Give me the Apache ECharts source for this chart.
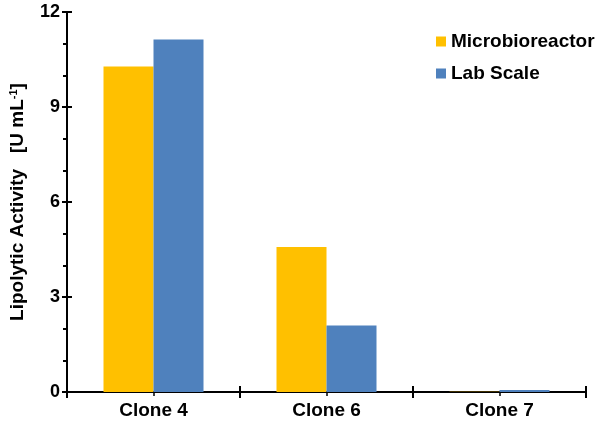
<!DOCTYPE html>
<html><head><meta charset="utf-8">
<script src="https://cdn.jsdelivr.net/npm/echarts@6/dist/echarts.min.js"></script>
<style>html,body{margin:0;padding:0;background:#fff}#c{width:600px;height:429px}</style>
</head><body><div id="c"></div>
<script>
const categories = ['Clone 4', 'Clone 6', 'Clone 7'];
const microbioreactor = [10.28, 4.58, 0.01];
const labScale = [11.13, 2.1, 0.06];
const yTicks = [0, 3, 6, 9, 12];

const F = '"Liberation Sans", Arial, Helvetica, sans-serif';
const chart = echarts.init(document.getElementById('c'), null, {renderer: 'canvas'});
const grid = {left: 64, right: 14, top: 12, bottom: 37};
const lineStyle = {color: '#000', width: 2};
chart.setOption({
  animation: false,
  backgroundColor: '#fff',
  grid: grid,
  legend: {
    orient: 'vertical', left: 431, top: 27, itemWidth: 10, itemHeight: 10, itemGap: 13,
    icon: 'rect',
    textStyle: {fontFamily: F, fontWeight: 'bold', fontSize: 19, color: '#000'},
    data: ['Microbioreactor', 'Lab Scale']
  },
  xAxis: [
    {type: 'category', data: categories, position: 'bottom',
     axisLine: {lineStyle: lineStyle},
     axisTick: {show: true, alignWithLabel: false, length: 6, inside: false, lineStyle: lineStyle},
     axisLabel: {fontFamily: F, fontWeight: 'bold', fontSize: 19, color: '#000', margin: 9}},
    {type: 'category', data: categories, position: 'bottom',
     axisLine: {show: false},
     axisTick: {show: true, alignWithLabel: false, length: 6, inside: true, lineStyle: lineStyle},
     axisLabel: {show: false}},
    {type: 'category', data: categories, position: 'bottom',
     axisLine: {show: false},
     axisTick: {show: true, alignWithLabel: true, length: 4, inside: false, lineStyle: {color: '#000', width: 1.5}},
     axisLabel: {show: false}}
  ],
  yAxis: [
    {type: 'value', min: yTicks[0], max: yTicks[yTicks.length - 1], interval: 3,
     name: '{t|Lipolytic Activity   [U mL}{s|-1}{t|]}',
     nameLocation: 'middle', nameGap: 39, nameRotate: 90,
     nameTextStyle: {rich: {
       t: {fontFamily: F, fontWeight: 'bold', fontSize: 19, color: '#000'},
       s: {fontFamily: F, fontWeight: 'bold', fontSize: 11, color: '#000', verticalAlign: 'top', padding: [0, 0, 9, 0]}
     }},
     axisLine: {show: true, lineStyle: lineStyle},
     axisTick: {show: true, length: 5, lineStyle: lineStyle},
     minorTick: {show: true, splitNumber: 3, length: 4, lineStyle: {color: '#000', width: 2}},
     splitLine: {show: false},
     axisLabel: {fontFamily: F, fontWeight: 'bold', fontSize: 18, color: '#000', margin: 7}},
    {type: 'value', min: yTicks[0], max: yTicks[yTicks.length - 1], interval: 3, position: 'left',
     axisLine: {show: false},
     axisTick: {show: true, inside: true, length: 5, lineStyle: lineStyle},
     splitLine: {show: false},
     axisLabel: {show: false}}
  ],
  series: [
    {name: 'Microbioreactor', type: 'bar', data: microbioreactor, barWidth: 50, barGap: '0%',
     itemStyle: {color: '#FFC000'}, z: 1},
    {name: 'Lab Scale', type: 'bar', data: labScale, barWidth: 50, barGap: '0%',
     itemStyle: {color: '#4F81BD'}, z: 1}
  ]
});
</script></body></html>
